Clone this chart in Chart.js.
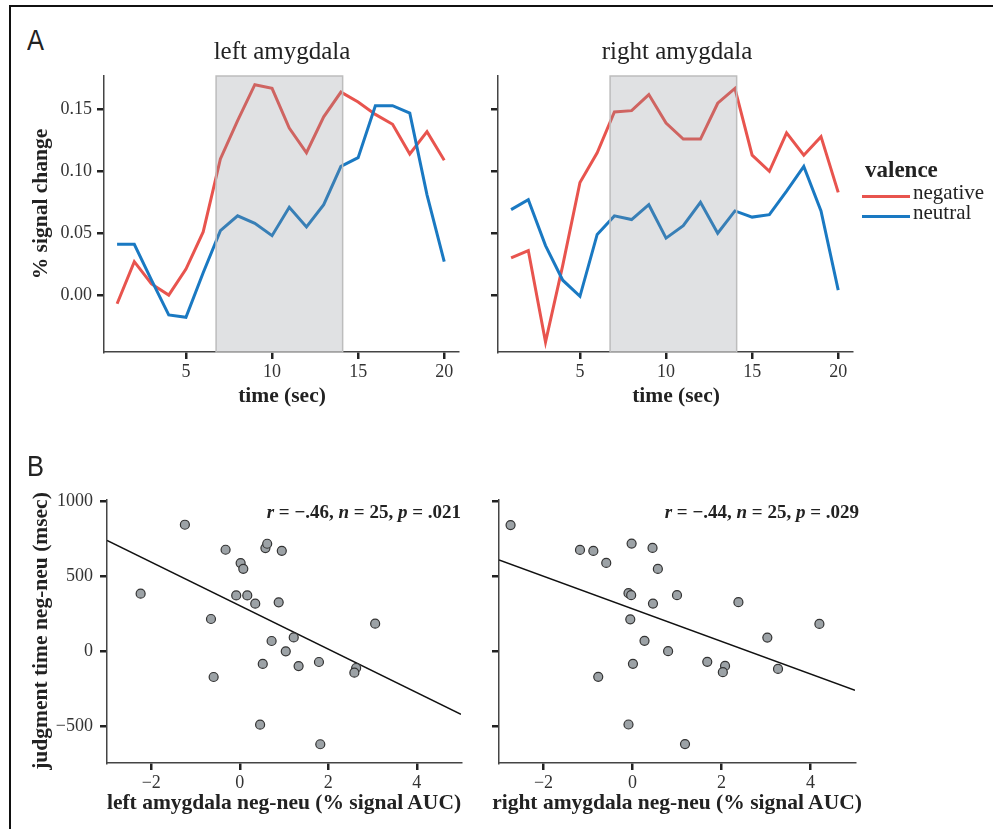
<!DOCTYPE html>
<html>
<head>
<meta charset="utf-8">
<script src="https://cdn.jsdelivr.net/npm/chart.js@4/dist/chart.umd.min.js"></script>
<style>
  body { margin: 0; background: #fff; }
  #fig { position: relative; width: 993px; height: 829px; overflow: hidden; font-family: "Liberation Serif", serif; color: #222; }
  canvas { position: absolute; }
  .t { position: absolute; white-space: nowrap; }
  .panel { font-family: "Liberation Sans", sans-serif; font-size: 30px; transform: scaleX(0.85); transform-origin: left top; }
  .ttl { font-size: 25px; transform: translateX(-50%); }
  .axt { font-size: 21.5px; font-weight: bold; transform: translate(-50%, -50%); }
  .yt { font-size: 21.5px; font-weight: bold; transform: translate(-50%, -50%) rotate(-90deg); }
  .stat { font-size: 19px; font-weight: bold; transform: translate(-100%, -50%); }
  .frameTop { position: absolute; left: 9px; top: 5px; width: 990px; height: 2px; background: #111; }
  .frameLeft { position: absolute; left: 9px; top: 5px; width: 2px; height: 830px; background: #111; }
  .swatch { position: absolute; height: 3px; width: 48px; }
</style>
</head>
<body>
<div id="fig">
  <div class="frameTop"></div>
  <div class="frameLeft"></div>

  <canvas id="aLeft" width="475" height="360" style="left:0;top:60px"></canvas>
  <canvas id="aRight" width="518" height="360" style="left:475px;top:60px"></canvas>
  <canvas id="bLeft" width="475" height="349" style="left:0;top:480px"></canvas>
  <canvas id="bRight" width="518" height="349" style="left:475px;top:480px"></canvas>

  <div class="t panel" style="left:27px;top:23px">A</div>
  <div class="t panel" style="left:27px;top:449px">B</div>
  <div class="t ttl" style="left:282px;top:37px">left amygdala</div>
  <div class="t ttl" style="left:677px;top:37px">right amygdala</div>
  <div class="t yt" style="left:40px;top:204px">% signal change</div>
  <div class="t axt" style="left:282px;top:395px">time (sec)</div>
  <div class="t axt" style="left:676px;top:395px">time (sec)</div>

  <div class="t" style="left:865px;top:157px;font-size:23px;font-weight:bold">valence</div>
  <div class="swatch" style="left:862px;top:195px;background:#e8544e"></div>
  <div class="swatch" style="left:862px;top:215px;background:#1a79c2"></div>
  <div class="t" style="left:913px;top:180px;font-size:21px">negative</div>
  <div class="t" style="left:913px;top:200px;font-size:21px">neutral</div>

  <div class="t yt" style="left:40px;top:631px">judgment time neg-neu (msec)</div>
  <div class="t axt" style="left:284px;top:802px">left amygdala neg-neu (% signal AUC)</div>
  <div class="t axt" style="left:677px;top:802px">right amygdala neg-neu (% signal AUC)</div>
  <div class="t stat" style="left:461px;top:512px"><i>r</i> = &minus;.46, <i>n</i> = 25, <i>p</i> = .021</div>
  <div class="t stat" style="left:859px;top:512px"><i>r</i> = &minus;.44, <i>n</i> = 25, <i>p</i> = .029</div>
</div>

<script>
// time courses (sec 1..20)
const timeSec = [1,2,3,4,5,6,7,8,9,10,11,12,13,14,15,16,17,18,19,20];
const leftNegative = [-0.007,0.027,0.009,0.000,0.021,0.051,0.110,0.141,0.170,0.167,0.135,0.115,0.144,0.164,0.156,0.146,0.138,0.114,0.132,0.109];
const leftNeutral  = [0.041,0.041,0.012,-0.016,-0.018,0.018,0.052,0.064,0.058,0.048,0.071,0.055,0.073,0.104,0.111,0.153,0.153,0.147,0.081,0.027];
const rightNegative = [0.030,0.036,-0.038,0.024,0.091,0.115,0.148,0.149,0.162,0.139,0.126,0.126,0.155,0.167,0.113,0.100,0.131,0.113,0.128,0.083];
const rightNeutral  = [0.069,0.077,0.040,0.012,-0.001,0.049,0.064,0.061,0.073,0.046,0.056,0.075,0.050,0.068,0.063,0.065,0.084,0.104,0.068,0.004];
const shadeWindow = [6.75, 14.1];
const timeTicks = [5,10,15,20];
const signalTicks = [0,0.05,0.10,0.15];

// scatter: AUC difference vs judgment time difference
const leftAUC = [-1.24,-2.24,-0.32,0.58,0.62,0.95,0.02,0.08,-0.08,0.17,0.35,0.88,-0.65,3.06,1.22,0.72,1.04,0.52,1.33,1.79,2.63,2.59,-0.59,0.46,1.82];
const leftRT  = [845,385,678,689,718,671,589,551,373,373,318,327,216,185,93,69,0,-84,-98,-71,-111,-142,-171,-489,-620];
const rightAUC = [-2.74,-1.18,-0.88,-0.59,-0.02,0.45,0.57,-0.09,-0.03,1.00,0.46,2.38,-0.05,4.20,3.03,0.27,0.80,0.01,1.68,2.08,2.03,3.27,-0.77,-0.09,1.18];
const rightRT  = [843,677,670,590,719,690,550,388,375,375,319,328,214,183,92,70,1,-83,-70,-97,-139,-117,-170,-488,-619];
const fitLeft = { intercept: 305, slope: -145 };
const fitRight = { intercept: 284, slope: -108.75 };
const aucRange = [-3, 5];
const aucTicks = [-2,0,2,4];
const rtTicks = [-500,0,500,1000];

const RED = '#e8544e', BLUE = '#1a79c2';
const tickFont = { family: 'Liberation Serif', size: 18 };
const minus = v => String(v).replace('-', '\u2212');

function axisStyle(tickVals, fmt, showLabels, fitFn, pad) {
  return {
    type: 'linear',
    afterBuildTicks: s => { s.ticks = tickVals.map(v => ({ value: v })); },
    afterFit: fitFn,
    grid: { display: true, drawOnChartArea: false, drawTicks: true, tickLength: 7, color: '#222', lineWidth: 2.5 },
    border: { display: true, color: '#444', width: 1.5 },
    ticks: { display: showLabels, font: tickFont, color: '#333', padding: pad, callback: fmt, maxRotation: 0, autoSkip: false }
  };
}

const shadePlugin = {
  id: 'shade',
  afterDatasetsDraw(chart, args, opts) {
    if (!opts.range) return;
    const { ctx, chartArea, scales } = chart;
    const x0 = scales.x.getPixelForValue(opts.range[0]);
    const x1 = scales.x.getPixelForValue(opts.range[1]);
    ctx.save();
    ctx.fillStyle = 'rgba(140,143,150,0.27)';
    ctx.fillRect(x0, chartArea.top, x1 - x0, chartArea.bottom - chartArea.top);
    ctx.strokeStyle = '#bdbdbd';
    ctx.lineWidth = 1.5;
    ctx.strokeRect(x0, chartArea.top, x1 - x0, chartArea.bottom - chartArea.top);
    ctx.restore();
  }
};

function timeChart(id, neg, neu, showLabels, yWidth, rightPad) {
  const pts = arr => arr.map((v, i) => ({ x: timeSec[i], y: v }));
  new Chart(document.getElementById(id), {
    type: 'line',
    data: {
      datasets: [
        { label: 'neutral', data: pts(neu), borderColor: BLUE, borderWidth: 3, pointRadius: 0, tension: 0 },
        { label: 'negative', data: pts(neg), borderColor: RED, borderWidth: 3, pointRadius: 0, tension: 0 }
      ]
    },
    options: {
      responsive: false, animation: false,
      layout: { padding: { top: 16, right: rightPad, left: 0, bottom: 0 } },
      plugins: { legend: { display: false }, tooltip: { enabled: false }, shade: { range: shadeWindow } },
      scales: {
        x: Object.assign(axisStyle(timeTicks, v => v, true, s => { s.height = 68; }, 2), { min: 0.24, max: 20.8 }),
        y: Object.assign(axisStyle(signalTicks, v => v.toFixed(2), showLabels, s => { s.width = yWidth; }, 5), { min: -0.046, max: 0.177 })
      }
    },
    plugins: [shadePlugin]
  });
}

function scatterChart(id, xs, ys, fit, showLabels, yWidth, rightPad) {
  new Chart(document.getElementById(id), {
    type: 'scatter',
    data: {
      datasets: [
        { data: xs.map((x, i) => ({ x: x, y: ys[i] })), pointRadius: 4.5, pointBackgroundColor: '#9ca2a6', pointBorderColor: '#333', pointBorderWidth: 1.2 },
        { type: 'line', data: aucRange.map(x => ({ x: x, y: fit.intercept + fit.slope * x })), borderColor: '#111', borderWidth: 1.5, pointRadius: 0 }
      ]
    },
    options: {
      responsive: false, animation: false,
      layout: { padding: { top: 20, right: rightPad, left: 0, bottom: 0 } },
      plugins: { legend: { display: false }, tooltip: { enabled: false } },
      scales: {
        x: Object.assign(axisStyle(aucTicks, minus, true, s => { s.height = 66; }, 2), { min: aucRange[0], max: aucRange[1] }),
        y: Object.assign(axisStyle(rtTicks, minus, showLabels, s => { s.width = yWidth; }, 7), { min: -745, max: 1010 })
      }
    }
  });
}

timeChart('aLeft', leftNegative, leftNeutral, true, 104, 17);
timeChart('aRight', rightNegative, rightNeutral, false, 23, 141);
scatterChart('bLeft', leftAUC, leftRT, fitLeft, true, 107, 14);
scatterChart('bRight', rightAUC, rightRT, fitRight, false, 24, 138);
</script>
</body>
</html>
